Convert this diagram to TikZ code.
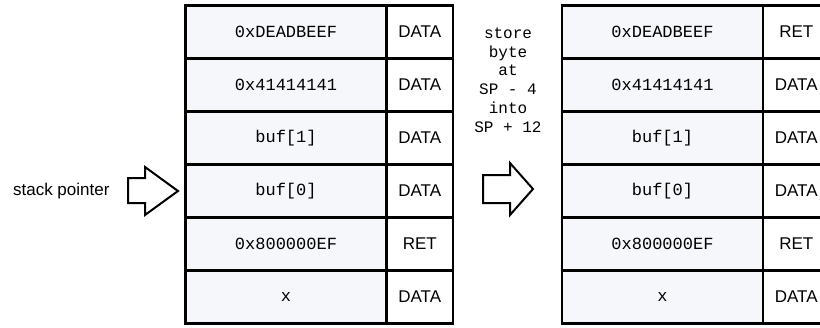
\documentclass[tikz,border=0pt]{standalone}
\usepackage{fontspec}
\setsansfont{Liberation Sans}
\setmonofont{Liberation Mono}
\usetikzlibrary{positioning}

\definecolor{cellfill}{RGB}{245,247,251}

\tikzset{
    cell/.style={draw, line width=2.4pt, outer sep=0pt, inner sep=0pt, minimum height=53pt},
    valcell/.style={cell, fill=cellfill, minimum width=201pt, font=\ttfamily\fontsize{17}{20}\selectfont},
    kindcell/.style={cell, fill=white, minimum width=66.5pt, font=\sffamily\fontsize{17}{20}\selectfont},
    fatarrow/.style={draw, line width=2pt, line join=miter, fill=white},
}

\begin{document}
\begin{tikzpicture}[x=1pt,y=-1pt]
    \useasboundingbox (0,0) rectangle (820,327);
    \clip (0,0) rectangle (820,327);

    % stack before the store
    \foreach \val/\kind [count=\i] in {0xDEADBEEF/DATA, 0x41414141/DATA, buf[1]/DATA, buf[0]/DATA, 0x800000EF/RET, x/DATA}
    {
        \node[valcell] (lv\i) at (286, {32+53*(\i-1)}) {\val};
        \node[kindcell, right=0pt of lv\i] (lk\i) {\kind};
    }

    % stack after the store
    \foreach \val/\kind [count=\i] in {0xDEADBEEF/RET, 0x41414141/DATA, buf[1]/DATA, buf[0]/DATA, 0x800000EF/RET, x/DATA}
    {
        \node[valcell] (rv\i) at (662.5, {32+53*(\i-1)}) {\val};
        \node[kindcell, right=0pt of rv\i] (rk\i) {\kind};
    }

    \node[anchor=east, font=\sffamily\fontsize{17}{20}\selectfont] (sp) at (113, 191) {stack pointer};
    \draw[fatarrow] (128,178) -- (145,178) -- (145,167) -- (178,191) -- (145,215) -- (145,203) -- (128,203) -- cycle;

    \node[align=center, font=\ttfamily\fontsize{16}{18.7}\selectfont] (op) at (508, 80)
        {store\\byte\\at\\SP - 4\\into\\SP + 12};
    \draw[fatarrow] (483,175) -- (510,175) -- (510,163) -- (533,189) -- (510,215) -- (510,203) -- (483,203) -- cycle;
\end{tikzpicture}
\end{document}
